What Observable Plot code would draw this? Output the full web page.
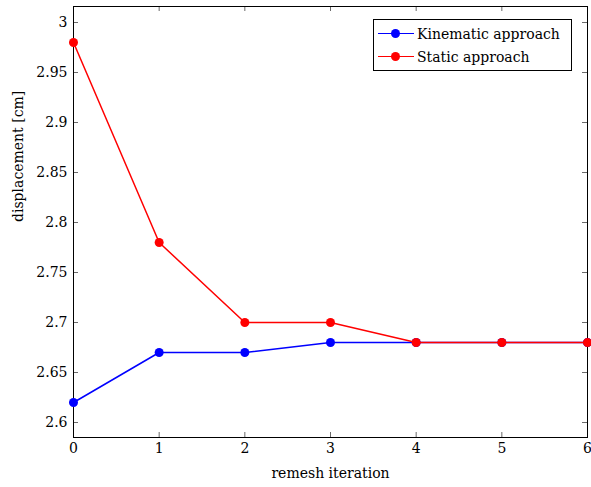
<!DOCTYPE html>
<html>
<head>
<meta charset="utf-8">
<script src="https://cdn.jsdelivr.net/npm/d3@7"></script>
<script src="https://cdn.jsdelivr.net/npm/@observablehq/plot@0.6"></script>
<style>
  html, body { margin: 0; padding: 0; background: #fff; }
  #wrap { position: relative; width: 591px; height: 487px; font-family: "DejaVu Serif", serif; }
  #wrap svg text { font-family: "DejaVu Serif", serif; }
  #legend { position: absolute; left: 373px; top: 19px; width: 197px; border: 1px solid #000; background: #fff; font-size: 14px; padding: 2px 0; font-family: "DejaVu Serif", serif; }
  .row { display: flex; align-items: center; height: 23px; }
  .sw { position: relative; width: 36px; height: 10px; margin-left: 4px; margin-right: 3px; }
  .sw .ln { position: absolute; left: 0; right: 0; top: 4px; height: 1.5px; }
  .sw .dt { position: absolute; left: 13px; top: 0px; width: 9px; height: 9px; border-radius: 50%; }
</style>
</head>
<body>
<div id="wrap"></div>
<script>
const iterations = [0, 1, 2, 3, 4, 5, 6];
const kinematic = [2.62, 2.67, 2.67, 2.68, 2.68, 2.68, 2.68];
const staticApproach = [2.98, 2.78, 2.70, 2.70, 2.68, 2.68, 2.68];
const seriesNames = ["Kinematic approach", "Static approach"];
const seriesColors = ["#0000ff", "#ff0000"];
const xTicks = [0, 1, 2, 3, 4, 5, 6];
const yTicks = [2.6, 2.65, 2.7, 2.75, 2.8, 2.85, 2.9, 2.95, 3];

const kin = iterations.map((x, i) => ({x, y: kinematic[i]}));
const sta = iterations.map((x, i) => ({x, y: staticApproach[i]}));

const H = 487, mt = 6, mb = 50;
const innerH = H - mt - mb;
const innerW = 591 - 73 - 4;
const tl = 5;
const FONT = "'DejaVu Serif', serif";

const chart = Plot.plot({
  width: 591,
  height: H,
  marginLeft: 73,
  marginRight: 4,
  marginTop: mt,
  marginBottom: mb,
  style: { fontFamily: FONT, fontSize: "14px", color: "#000", background: "#fff" },
  x: { domain: [0, 6] },
  y: { domain: [2.585, 3.016] },
  marks: [
    Plot.axisX({ ticks: xTicks, tickSize: 0, tickPadding: 6, tickFormat: d => String(d), fontSize: 14, label: null }),
    Plot.axisY({ ticks: yTicks, tickSize: 0, tickPadding: 6, tickFormat: d => String(+d.toFixed(2)), fontSize: 14, label: null }),
    Plot.tickX(xTicks.slice(1, -1), { x: d => d, insetTop: innerH - tl, stroke: "#444", strokeWidth: 0.8 }),
    Plot.tickX(xTicks.slice(1, -1), { x: d => d, insetBottom: innerH - tl, stroke: "#444", strokeWidth: 0.8 }),
    Plot.tickY(yTicks, { y: d => d, insetRight: innerW - tl, stroke: "#444", strokeWidth: 0.8 }),
    Plot.tickY(yTicks, { y: d => d, insetLeft: innerW - tl, stroke: "#444", strokeWidth: 0.8 }),
    Plot.frame({ stroke: "#000", strokeWidth: 1 }),
    Plot.line(kin, { x: "x", y: "y", stroke: seriesColors[0], strokeWidth: 1.5 }),
    Plot.dot(kin, { x: "x", y: "y", fill: seriesColors[0], r: 4.5 }),
    Plot.line(sta, { x: "x", y: "y", stroke: seriesColors[1], strokeWidth: 1.5 }),
    Plot.dot(sta, { x: "x", y: "y", fill: seriesColors[1], r: 4.5 }),
    Plot.text(["remesh iteration"], { frameAnchor: "bottom", dy: 40, text: d => d, fontSize: 14 }),
    Plot.text(["displacement [cm]"], { frameAnchor: "left", dx: -55, rotate: -90, text: d => d, fontSize: 14 })
  ]
});
chart.style.overflow = "visible";
const wrap = document.getElementById("wrap");
wrap.appendChild(chart);

const legend = document.createElement("div");
legend.id = "legend";
seriesNames.forEach((name, i) => {
  const row = document.createElement("div");
  row.className = "row";
  row.innerHTML = `<div class="sw"><div class="ln" style="background:${seriesColors[i]}"></div><div class="dt" style="background:${seriesColors[i]}"></div></div><span>${name}</span>`;
  legend.appendChild(row);
});
wrap.appendChild(legend);
</script>
</body>
</html>
